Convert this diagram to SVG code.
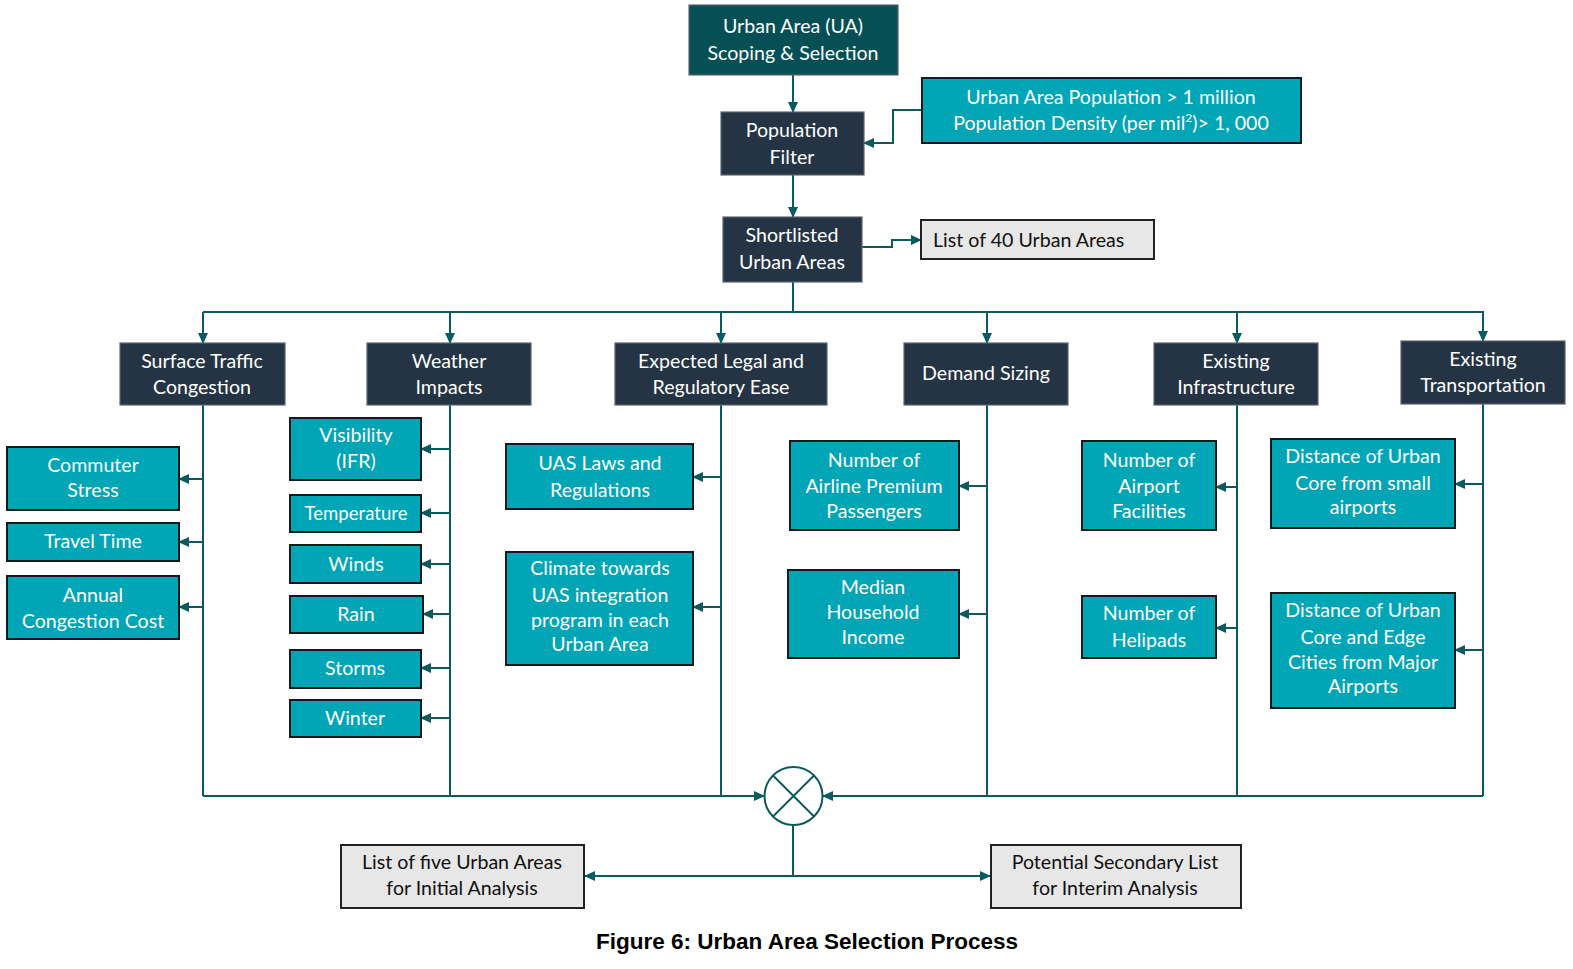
<svg xmlns="http://www.w3.org/2000/svg" width="1573" height="969" viewBox="0 0 1573 969">
<defs>
<marker id="ah" markerUnits="userSpaceOnUse" markerWidth="11" markerHeight="10" refX="10" refY="5" orient="auto"><path d="M0,0 L11,5 L0,10 z" fill="#0B5A60"/></marker>
<style>
.dk{fill:#243444;stroke:#5b6570;stroke-width:1.2}
.top{fill:#054F55;stroke:#5b6570;stroke-width:1.2}
.cy{fill:#00A5B6;stroke:#141a1c;stroke-width:2}
.gr{fill:#E7E7E7;stroke:#222;stroke-width:2}
.t{font-family:Lato,"Open Sans",sans-serif;font-size:19.6px;fill:#fff;text-anchor:middle}
.b{fill:#111}
.c line,.c path,.c polyline{stroke:#0B5A60;stroke-width:2;fill:none}
.cap{font-family:"Liberation Sans",Arial,sans-serif;font-weight:bold;font-size:22px;fill:#000;text-anchor:middle}
</style>
</defs>
<rect width="1573" height="969" fill="#fff"/>

<g class="c" id="connectors">
<line x1="793" y1="75" x2="793" y2="112" marker-end="url(#ah)"/>
<polyline points="922,110 893,110 893,143 864,143" marker-end="url(#ah)"/>
<line x1="793" y1="175" x2="793" y2="217" marker-end="url(#ah)"/>
<polyline points="862,247 892,247 892,240 921,240" marker-end="url(#ah)"/>
<line x1="793" y1="282" x2="793" y2="312"/>
<line x1="203" y1="312" x2="1484" y2="312"/>
<line x1="203" y1="312" x2="203" y2="343" marker-end="url(#ah)"/>
<line x1="450" y1="312" x2="450" y2="343" marker-end="url(#ah)"/>
<line x1="721" y1="312" x2="721" y2="343" marker-end="url(#ah)"/>
<line x1="987" y1="312" x2="987" y2="343" marker-end="url(#ah)"/>
<line x1="1237" y1="312" x2="1237" y2="343" marker-end="url(#ah)"/>
<line x1="1483" y1="312" x2="1483" y2="341" marker-end="url(#ah)"/>
<line x1="203" y1="405" x2="203" y2="796"/>
<line x1="450" y1="405" x2="450" y2="796"/>
<line x1="721" y1="405" x2="721" y2="796"/>
<line x1="987" y1="405" x2="987" y2="796"/>
<line x1="1237" y1="405" x2="1237" y2="796"/>
<line x1="1483" y1="404" x2="1483" y2="796"/>
<line x1="203" y1="479" x2="179" y2="479" marker-end="url(#ah)"/>
<line x1="203" y1="542" x2="179" y2="542" marker-end="url(#ah)"/>
<line x1="203" y1="607" x2="179" y2="607" marker-end="url(#ah)"/>
<line x1="450" y1="449" x2="421" y2="449" marker-end="url(#ah)"/>
<line x1="450" y1="513" x2="421" y2="513" marker-end="url(#ah)"/>
<line x1="450" y1="564" x2="421" y2="564" marker-end="url(#ah)"/>
<line x1="450" y1="614" x2="423" y2="614" marker-end="url(#ah)"/>
<line x1="450" y1="668" x2="421" y2="668" marker-end="url(#ah)"/>
<line x1="450" y1="718" x2="421" y2="718" marker-end="url(#ah)"/>
<line x1="721" y1="477" x2="693" y2="477" marker-end="url(#ah)"/>
<line x1="721" y1="607" x2="693" y2="607" marker-end="url(#ah)"/>
<line x1="987" y1="486" x2="959" y2="486" marker-end="url(#ah)"/>
<line x1="987" y1="614" x2="959" y2="614" marker-end="url(#ah)"/>
<line x1="1237" y1="487" x2="1216" y2="487" marker-end="url(#ah)"/>
<line x1="1237" y1="628" x2="1216" y2="628" marker-end="url(#ah)"/>
<line x1="1483" y1="484" x2="1455" y2="484" marker-end="url(#ah)"/>
<line x1="1483" y1="650" x2="1455" y2="650" marker-end="url(#ah)"/>
<line x1="203" y1="796" x2="764" y2="796" marker-end="url(#ah)"/>
<line x1="1483" y1="796" x2="823" y2="796" marker-end="url(#ah)"/>
<line x1="793" y1="826" x2="793" y2="876"/>
<line x1="793" y1="876" x2="585" y2="876" marker-end="url(#ah)"/>
<line x1="793" y1="876" x2="990" y2="876" marker-end="url(#ah)"/>
</g>

<g id="junction">
<circle cx="793.5" cy="796" r="29" fill="#fff" stroke="#0B5A60" stroke-width="2"/>
<line x1="773" y1="775.5" x2="814" y2="816.5" stroke="#0B5A60" stroke-width="2"/>
<line x1="814" y1="775.5" x2="773" y2="816.5" stroke="#0B5A60" stroke-width="2"/>
</g>

<g id="ua"><rect class="top" x="689" y="5" width="209" height="70"/>
<text class="t" x="793" y="33">Urban Area (UA)</text><text class="t" x="793" y="60">Scoping &amp; Selection</text></g>

<g id="popfilter"><rect class="dk" x="721" y="112" width="143" height="63"/>
<text class="t" x="792" y="137">Population</text><text class="t" x="792" y="164">Filter</text></g>

<g id="popcriteria"><rect class="cy" x="922" y="78" width="379" height="65"/>
<text class="t" x="1111" y="104">Urban Area Population &gt; 1 million</text>
<text class="t" x="1111" y="130">Population Density (per mil<tspan font-size="12" dy="-8">2</tspan><tspan dy="8">)&gt; 1, 000</tspan></text></g>

<g id="shortlisted"><rect class="dk" x="723" y="217" width="139" height="65"/>
<text class="t" x="792" y="242">Shortlisted</text><text class="t" x="792" y="269">Urban Areas</text></g>

<g id="list40"><rect class="gr" x="921" y="220" width="233" height="39"/>
<text class="t b" x="933" y="247" style="text-anchor:start">List of 40 Urban Areas</text></g>

<g id="surface"><rect class="dk" x="120" y="343" width="165" height="62"/>
<text class="t" x="202" y="368">Surface Traffic</text><text class="t" x="202" y="394">Congestion</text></g>
<g id="weather"><rect class="dk" x="367" y="343" width="164" height="62"/>
<text class="t" x="449" y="368">Weather</text><text class="t" x="449" y="394">Impacts</text></g>
<g id="legal"><rect class="dk" x="615" y="343" width="212" height="62"/>
<text class="t" x="721" y="368">Expected Legal and</text><text class="t" x="721" y="394">Regulatory Ease</text></g>
<g id="demand"><rect class="dk" x="904" y="343" width="164" height="62"/>
<text class="t" x="986" y="380">Demand Sizing</text></g>
<g id="infra"><rect class="dk" x="1154" y="343" width="164" height="62"/>
<text class="t" x="1236" y="368">Existing</text><text class="t" x="1236" y="394">Infrastructure</text></g>
<g id="transport"><rect class="dk" x="1401" y="341" width="164" height="63"/>
<text class="t" x="1483" y="366">Existing</text><text class="t" x="1483" y="392">Transportation</text></g>

<g id="commuter"><rect class="cy" x="7" y="447" width="172" height="63"/>
<text class="t" x="93" y="472">Commuter</text><text class="t" x="93" y="497">Stress</text></g>
<g id="travel"><rect class="cy" x="7" y="523" width="172" height="38"/>
<text class="t" x="93" y="548">Travel Time</text></g>
<g id="annual"><rect class="cy" x="7" y="576" width="172" height="63"/>
<text class="t" x="93" y="602">Annual</text><text class="t" x="93" y="628">Congestion Cost</text></g>

<g id="visibility"><rect class="cy" x="290" y="418" width="131" height="62"/>
<text class="t" x="356" y="442">Visibility</text><text class="t" x="356" y="468">(IFR)</text></g>
<g id="temperature"><rect class="cy" x="290" y="495" width="131" height="37"/>
<text class="t" x="356" y="520" style="font-size:18.6px">Temperature</text></g>
<g id="winds"><rect class="cy" x="290" y="545" width="131" height="38"/>
<text class="t" x="356" y="571">Winds</text></g>
<g id="rain"><rect class="cy" x="290" y="596" width="133" height="37"/>
<text class="t" x="356" y="621">Rain</text></g>
<g id="storms"><rect class="cy" x="290" y="650" width="131" height="38"/>
<text class="t" x="355" y="675">Storms</text></g>
<g id="winter"><rect class="cy" x="290" y="700" width="131" height="37"/>
<text class="t" x="355" y="725">Winter</text></g>

<g id="uaslaws"><rect class="cy" x="506" y="444" width="187" height="65"/>
<text class="t" x="600" y="470">UAS Laws and</text><text class="t" x="600" y="497">Regulations</text></g>
<g id="climate"><rect class="cy" x="506" y="552" width="187" height="113"/>
<text class="t" x="600" y="575">Climate towards</text><text class="t" x="600" y="602">UAS integration</text>
<text class="t" x="600" y="627">program in each</text><text class="t" x="600" y="651">Urban Area</text></g>

<g id="airline"><rect class="cy" x="790" y="441" width="169" height="89"/>
<text class="t" x="874" y="467">Number of</text><text class="t" x="874" y="493">Airline Premium</text><text class="t" x="874" y="518">Passengers</text></g>
<g id="median"><rect class="cy" x="788" y="570" width="171" height="88"/>
<text class="t" x="873" y="594">Median</text><text class="t" x="873" y="619">Household</text><text class="t" x="873" y="644">Income</text></g>

<g id="airport"><rect class="cy" x="1082" y="441" width="134" height="89"/>
<text class="t" x="1149" y="467">Number of</text><text class="t" x="1149" y="493">Airport</text><text class="t" x="1149" y="518">Facilities</text></g>
<g id="helipads"><rect class="cy" x="1082" y="596" width="134" height="62"/>
<text class="t" x="1149" y="620">Number of</text><text class="t" x="1149" y="647">Helipads</text></g>

<g id="distsmall"><rect class="cy" x="1271" y="439" width="184" height="89"/>
<text class="t" x="1363" y="463">Distance of Urban</text><text class="t" x="1363" y="490">Core from small</text><text class="t" x="1363" y="514">airports</text></g>
<g id="distmajor"><rect class="cy" x="1271" y="593" width="184" height="115"/>
<text class="t" x="1363" y="617">Distance of Urban</text><text class="t" x="1363" y="644">Core and Edge</text>
<text class="t" x="1363" y="669">Cities from Major</text><text class="t" x="1363" y="693">Airports</text></g>

<g id="listfive"><rect class="gr" x="341" y="845" width="243" height="63"/>
<text class="t b" x="462" y="869">List of five Urban Areas</text><text class="t b" x="462" y="895">for Initial Analysis</text></g>
<g id="secondary"><rect class="gr" x="991" y="845" width="250" height="63"/>
<text class="t b" x="1115" y="869">Potential Secondary List</text><text class="t b" x="1115" y="895">for Interim Analysis</text></g>

<text class="cap" x="807" y="949" textLength="422" lengthAdjust="spacingAndGlyphs">Figure 6: Urban Area Selection Process</text>
</svg>
